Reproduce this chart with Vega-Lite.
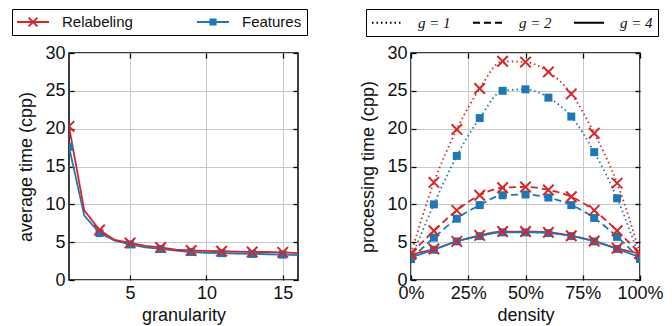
{
  "$schema": "https://vega.github.io/schema/vega-lite/v6.json",
  "autosize": {"type": "pad"},
  "padding": {"left": 10, "top": 7, "right": 5, "bottom": 0},
  "bounds": "flush",
  "spacing": 113,
  "config": {
    "view": {"stroke": "black", "strokeWidth": 1.5},
    "font": "Liberation Sans",
    "axis": {"labelFont": "Liberation Sans", "titleFont": "Liberation Sans", "labelFontSize": 18, "titleFontSize": 18, "titleFontWeight": "normal", "labelColor": "#111", "titleColor": "#111", "domain": false, "tickColor": "black", "tickWidth": 1.3, "tickSize": -5, "gridColor": "#c8c8c8", "gridWidth": 1, "labelFlush": false, "labelOverlap": false},
    "axisX": {"labelPadding": 9, "titlePadding": 4},
    "axisY": {"labelPadding": 9, "titlePadding": 9}
  },
  "datasets": {
    "gran": [
      {"g": 1, "method": "Relabeling", "time": 20.3, "mk": true},
      {"g": 2, "method": "Relabeling", "time": 9.2, "mk": false},
      {"g": 3, "method": "Relabeling", "time": 6.6, "mk": true},
      {"g": 4, "method": "Relabeling", "time": 5.3, "mk": false},
      {"g": 5, "method": "Relabeling", "time": 4.9, "mk": true},
      {"g": 6, "method": "Relabeling", "time": 4.5, "mk": false},
      {"g": 7, "method": "Relabeling", "time": 4.3, "mk": true},
      {"g": 8, "method": "Relabeling", "time": 4.0, "mk": false},
      {"g": 9, "method": "Relabeling", "time": 3.9, "mk": true},
      {"g": 10, "method": "Relabeling", "time": 3.85, "mk": false},
      {"g": 11, "method": "Relabeling", "time": 3.8, "mk": true},
      {"g": 12, "method": "Relabeling", "time": 3.75, "mk": false},
      {"g": 13, "method": "Relabeling", "time": 3.7, "mk": true},
      {"g": 14, "method": "Relabeling", "time": 3.7, "mk": false},
      {"g": 15, "method": "Relabeling", "time": 3.65, "mk": true},
      {"g": 16, "method": "Relabeling", "time": 3.55, "mk": false},
      {"g": 1, "method": "Features", "time": 17.6, "mk": true},
      {"g": 2, "method": "Features", "time": 8.5, "mk": false},
      {"g": 3, "method": "Features", "time": 6.2, "mk": true},
      {"g": 4, "method": "Features", "time": 5.2, "mk": false},
      {"g": 5, "method": "Features", "time": 4.7, "mk": true},
      {"g": 6, "method": "Features", "time": 4.3, "mk": false},
      {"g": 7, "method": "Features", "time": 4.1, "mk": true},
      {"g": 8, "method": "Features", "time": 3.9, "mk": false},
      {"g": 9, "method": "Features", "time": 3.7, "mk": true},
      {"g": 10, "method": "Features", "time": 3.6, "mk": false},
      {"g": 11, "method": "Features", "time": 3.55, "mk": true},
      {"g": 12, "method": "Features", "time": 3.5, "mk": false},
      {"g": 13, "method": "Features", "time": 3.45, "mk": true},
      {"g": 14, "method": "Features", "time": 3.4, "mk": false},
      {"g": 15, "method": "Features", "time": 3.35, "mk": true},
      {"g": 16, "method": "Features", "time": 3.3, "mk": false}
    ],
    "dens": [
      {"density": 0, "g": 1, "method": "Relabeling", "time": 3.5},
      {"density": 10, "g": 1, "method": "Relabeling", "time": 12.9},
      {"density": 20, "g": 1, "method": "Relabeling", "time": 19.9},
      {"density": 30, "g": 1, "method": "Relabeling", "time": 25.3},
      {"density": 40, "g": 1, "method": "Relabeling", "time": 28.9},
      {"density": 50, "g": 1, "method": "Relabeling", "time": 28.8},
      {"density": 60, "g": 1, "method": "Relabeling", "time": 27.5},
      {"density": 70, "g": 1, "method": "Relabeling", "time": 24.6},
      {"density": 80, "g": 1, "method": "Relabeling", "time": 19.4},
      {"density": 90, "g": 1, "method": "Relabeling", "time": 12.8},
      {"density": 100, "g": 1, "method": "Relabeling", "time": 3.5},
      {"density": 0, "g": 1, "method": "Features", "time": 2.8},
      {"density": 10, "g": 1, "method": "Features", "time": 10.0},
      {"density": 20, "g": 1, "method": "Features", "time": 16.4},
      {"density": 30, "g": 1, "method": "Features", "time": 21.4},
      {"density": 40, "g": 1, "method": "Features", "time": 25.0},
      {"density": 50, "g": 1, "method": "Features", "time": 25.2},
      {"density": 60, "g": 1, "method": "Features", "time": 24.1},
      {"density": 70, "g": 1, "method": "Features", "time": 21.6},
      {"density": 80, "g": 1, "method": "Features", "time": 16.9},
      {"density": 90, "g": 1, "method": "Features", "time": 10.8},
      {"density": 100, "g": 1, "method": "Features", "time": 2.8},
      {"density": 0, "g": 2, "method": "Relabeling", "time": 3.5},
      {"density": 10, "g": 2, "method": "Relabeling", "time": 6.5},
      {"density": 20, "g": 2, "method": "Relabeling", "time": 9.2},
      {"density": 30, "g": 2, "method": "Relabeling", "time": 11.2},
      {"density": 40, "g": 2, "method": "Relabeling", "time": 12.2},
      {"density": 50, "g": 2, "method": "Relabeling", "time": 12.3},
      {"density": 60, "g": 2, "method": "Relabeling", "time": 11.9},
      {"density": 70, "g": 2, "method": "Relabeling", "time": 11.0},
      {"density": 80, "g": 2, "method": "Relabeling", "time": 9.2},
      {"density": 90, "g": 2, "method": "Relabeling", "time": 6.5},
      {"density": 100, "g": 2, "method": "Relabeling", "time": 3.5},
      {"density": 0, "g": 2, "method": "Features", "time": 2.8},
      {"density": 10, "g": 2, "method": "Features", "time": 5.6},
      {"density": 20, "g": 2, "method": "Features", "time": 8.1},
      {"density": 30, "g": 2, "method": "Features", "time": 9.9},
      {"density": 40, "g": 2, "method": "Features", "time": 11.2},
      {"density": 50, "g": 2, "method": "Features", "time": 11.3},
      {"density": 60, "g": 2, "method": "Features", "time": 10.9},
      {"density": 70, "g": 2, "method": "Features", "time": 9.9},
      {"density": 80, "g": 2, "method": "Features", "time": 8.2},
      {"density": 90, "g": 2, "method": "Features", "time": 5.7},
      {"density": 100, "g": 2, "method": "Features", "time": 2.8},
      {"density": 0, "g": 4, "method": "Relabeling", "time": 3.4},
      {"density": 10, "g": 4, "method": "Relabeling", "time": 4.1},
      {"density": 20, "g": 4, "method": "Relabeling", "time": 5.1},
      {"density": 30, "g": 4, "method": "Relabeling", "time": 5.9},
      {"density": 40, "g": 4, "method": "Relabeling", "time": 6.4},
      {"density": 50, "g": 4, "method": "Relabeling", "time": 6.4},
      {"density": 60, "g": 4, "method": "Relabeling", "time": 6.3},
      {"density": 70, "g": 4, "method": "Relabeling", "time": 5.85},
      {"density": 80, "g": 4, "method": "Relabeling", "time": 5.15},
      {"density": 90, "g": 4, "method": "Relabeling", "time": 4.2},
      {"density": 100, "g": 4, "method": "Relabeling", "time": 3.5},
      {"density": 0, "g": 4, "method": "Features", "time": 3.0},
      {"density": 10, "g": 4, "method": "Features", "time": 4.0},
      {"density": 20, "g": 4, "method": "Features", "time": 5.1},
      {"density": 30, "g": 4, "method": "Features", "time": 5.8},
      {"density": 40, "g": 4, "method": "Features", "time": 6.3},
      {"density": 50, "g": 4, "method": "Features", "time": 6.3},
      {"density": 60, "g": 4, "method": "Features", "time": 6.2},
      {"density": 70, "g": 4, "method": "Features", "time": 5.8},
      {"density": 80, "g": 4, "method": "Features", "time": 5.1},
      {"density": 90, "g": 4, "method": "Features", "time": 4.1},
      {"density": 100, "g": 4, "method": "Features", "time": 3.0}
    ]
  },
  "hconcat": [
    {
      "width": 229,
      "height": 227,
      "data": {"name": "gran"},
      "layer": [
        {
          "transform": [{"filter": "datum.method == 'Features'"}],
          "mark": {"type": "line", "strokeWidth": 1.8, "clip": true, "color": "#1f78b4"},
          "encoding": {
            "x": {"field": "g", "type": "quantitative", "scale": {"domain": [1, 16], "nice": false}, "axis": {"values": [5, 10, 15], "title": "granularity"}},
            "y": {"field": "time", "type": "quantitative", "scale": {"domain": [0, 30]}, "axis": {"values": [0, 5, 10, 15, 20, 25, 30], "title": "average time (cpp)"}}
          }
        },
        {
          "transform": [{"filter": "datum.method == 'Relabeling'"}],
          "mark": {"type": "line", "strokeWidth": 1.8, "clip": true, "color": "#d62728"},
          "encoding": {
            "x": {"field": "g", "type": "quantitative", "axis": null},
            "y": {"field": "time", "type": "quantitative", "axis": null}
          }
        },
        {
          "transform": [{"filter": "datum.mk && datum.method == 'Features'"}],
          "mark": {"type": "point", "shape": "square", "filled": true, "size": 64, "opacity": 1, "clip": true, "color": "#1f78b4"},
          "encoding": {
            "x": {"field": "g", "type": "quantitative", "axis": {"orient": "top", "values": [5, 10, 15], "labels": false, "title": null, "grid": false}},
            "y": {"field": "time", "type": "quantitative", "axis": {"orient": "right", "values": [0, 5, 10, 15, 20, 25, 30], "labels": false, "title": null, "grid": false}}
          }
        },
        {
          "transform": [{"filter": "datum.mk && datum.method == 'Relabeling'"}],
          "mark": {"type": "point", "shape": "M-1,-1L1,1M-1,1L1,-1", "filled": false, "size": 110, "strokeWidth": 2, "opacity": 1, "clip": true, "color": "#d62728"},
          "encoding": {
            "x": {"field": "g", "type": "quantitative", "axis": null},
            "y": {"field": "time", "type": "quantitative", "axis": null}
          }
        },
        {
          "transform": [{"filter": "datum.g < 0"}],
          "mark": {"type": "point", "filled": true, "opacity": 1, "strokeWidth": 0},
          "encoding": {
            "x": {"field": "g", "type": "quantitative", "axis": null},
            "y": {"field": "time", "type": "quantitative", "axis": null},
            "color": {
              "field": "method", "type": "nominal",
              "scale": {"domain": ["Features", "Relabeling"], "range": ["#1f78b4", "#d62728"]},
              "legend": {
                "title": null, "orient": "none", "legendX": -57, "legendY": -44,
                "direction": "horizontal", "columns": 2, "values": ["Relabeling", "Features"],
                "strokeColor": "black", "padding": 5, "columnPadding": 64,
                "symbolSize": 256, "symbolOpacity": 1, "symbolStrokeWidth": 0, "labelOffset": 29,
                "labelFont": "Liberation Sans", "labelFontSize": 15, "labelColor": "#111"
              }
            },
            "shape": {
              "field": "method", "type": "nominal",
              "scale": {"domain": ["Features", "Relabeling"], "range": [
                "M-1,-0.11H3V0.11H-1ZM0.55,-0.45H1.45V0.45H0.55Z",
                "M-1,-0.11H3V0.11H-1ZM0.362,-0.462L0.538,-0.638L1.638,0.462L1.462,0.638ZM0.538,0.638L0.362,0.462L1.462,-0.638L1.638,-0.462Z"
              ]}
            }
          }
        }
      ],
      "resolve": {"axis": {"x": "independent", "y": "independent"}}
    },
    {
      "width": 229,
      "height": 227,
      "data": {"name": "dens"},
      "layer": [
        {
          "mark": {"type": "line", "strokeWidth": 1.8, "clip": true, "interpolate": "monotone"},
          "encoding": {
            "x": {"field": "density", "type": "quantitative", "scale": {"domain": [0, 100], "nice": false}, "axis": {"values": [0, 25, 50, 75, 100], "labelExpr": "datum.value + '%'", "title": "density"}},
            "y": {"field": "time", "type": "quantitative", "scale": {"domain": [0, 30]}, "axis": {"values": [0, 5, 10, 15, 20, 25, 30], "title": "processing time (cpp)"}},
            "color": {"field": "method", "type": "nominal", "scale": {"domain": ["Features", "Relabeling"], "range": ["#1f78b4", "#d62728"]}, "legend": null},
            "strokeDash": {
              "field": "g", "type": "ordinal",
              "scale": {"domain": [1, 2, 4], "range": [[1.5, 3], [7, 4], [1, 0]]},
              "legend": {
                "title": null, "orient": "none", "legendX": -45, "legendY": -44,
                "direction": "horizontal", "columns": 3,
                "strokeColor": "black", "padding": 5, "columnPadding": 18,
                "symbolSize": 225, "symbolType": "M-1,0H3", "symbolStrokeColor": "black", "symbolStrokeWidth": 1.8, "labelOffset": 30,
                "labelExpr": "'g = ' + datum.label",
                "labelFont": "Liberation Serif", "labelFontStyle": "italic", "labelFontSize": 15, "labelColor": "#111"
              }
            }
          }
        },
        {
          "mark": {"type": "point", "shape": "square", "filled": true, "size": 64, "opacity": 1, "clip": true, "color": "#1f78b4"},
          "transform": [{"filter": "datum.method == 'Features'"}],
          "encoding": {
            "x": {"field": "density", "type": "quantitative", "axis": {"orient": "top", "values": [0, 25, 50, 75, 100], "labels": false, "title": null, "grid": false}},
            "y": {"field": "time", "type": "quantitative", "axis": {"orient": "right", "values": [0, 5, 10, 15, 20, 25, 30], "labels": false, "title": null, "grid": false}}
          }
        },
        {
          "mark": {"type": "point", "shape": "M-1,-1L1,1M-1,1L1,-1", "filled": false, "size": 110, "strokeWidth": 2, "opacity": 1, "clip": true, "color": "#d62728"},
          "transform": [{"filter": "datum.method == 'Relabeling'"}],
          "encoding": {
            "x": {"field": "density", "type": "quantitative", "axis": null},
            "y": {"field": "time", "type": "quantitative", "axis": null}
          }
        }
      ],
      "resolve": {"axis": {"x": "independent", "y": "independent"}}
    }
  ],
  "resolve": {"scale": {"color": "independent", "strokeDash": "independent", "shape": "independent"}, "legend": {"color": "independent", "strokeDash": "independent", "shape": "independent"}}
}
